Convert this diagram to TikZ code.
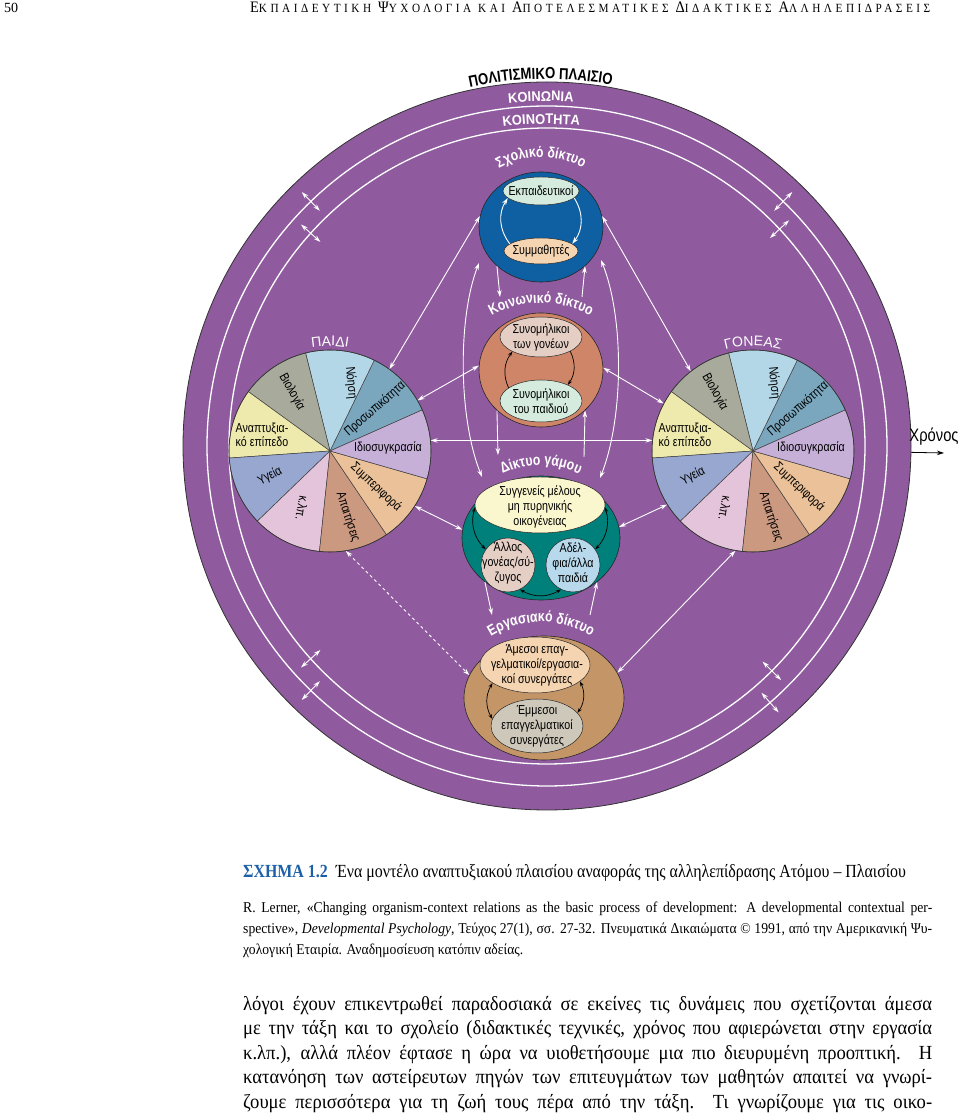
\documentclass[tikz,border=0pt]{standalone}
\usepackage{fontspec}
\setmainfont{Liberation Serif}
\newfontfamily\dfont[FakeStretch=0.82]{Liberation Sans}
\newfontfamily\wfont{Liberation Sans}
\newfontfamily\rfont[FakeStretch=0.92]{Liberation Sans}
\newfontfamily\capfont[FakeStretch=0.86]{Liberation Serif}
\newfontfamily\citefont[FakeStretch=0.91]{Liberation Serif}
\newfontfamily\bodyfont[FakeStretch=0.93]{Liberation Serif}
\newfontfamily\hdfont[LetterSpace=28,FakeStretch=0.9]{Liberation Serif}
\usetikzlibrary{arrows.meta,shapes.geometric,decorations.text,calc}

\definecolor{ctxpurple}{RGB}{143,91,158}
\definecolor{schoolblue}{RGB}{14,96,163}
\definecolor{socialred}{RGB}{207,133,104}
\definecolor{marteal}{RGB}{0,128,122}
\definecolor{worktan}{RGB}{196,150,103}
\definecolor{mintfill}{RGB}{212,235,222}
\definecolor{peachfill}{RGB}{245,212,177}
\definecolor{rosefill}{RGB}{229,207,197}
\definecolor{creamfill}{RGB}{250,246,206}
\definecolor{skyfill}{RGB}{184,217,235}
\definecolor{greyfill}{RGB}{205,200,186}
\definecolor{capblue}{RGB}{28,96,168}
\definecolor{pbio}{RGB}{168,171,156}
\definecolor{pnoi}{RGB}{180,215,232}
\definecolor{pper}{RGB}{122,167,190}
\definecolor{ptem}{RGB}{199,176,216}
\definecolor{pbeh}{RGB}{234,193,152}
\definecolor{pdem}{RGB}{203,152,128}
\definecolor{petc}{RGB}{227,196,218}
\definecolor{phea}{RGB}{152,167,207}
\definecolor{pdev}{RGB}{238,233,172}

\newcommand\netfont{\dfont\bfseries\fontsize{15}{15}\selectfont}
\newcommand\polfont{\dfont\bfseries\fontsize{16}{16}\selectfont}
\newcommand\ringfont{\rfont\bfseries\fontsize{14}{14}\selectfont}
\newcommand\whofont{\wfont\fontsize{14}{14}\selectfont}
\newcommand\hsc[2]{{\fontsize{16}{16}\selectfont#1}{\fontsize{12.5}{12.5}\selectfont#2}}

\begin{document}
\begin{tikzpicture}[x=1pt,y=1pt,
  warrow/.style={white,line width=0.9pt,{Stealth[length=7pt,width=4.5pt]}-{Stealth[length=7pt,width=4.5pt]}},
  wone/.style={white,line width=0.9pt,-{Stealth[length=7pt,width=4.5pt]}},
  barrow/.style={black,line width=0.7pt,{Stealth[length=5pt,width=3.5pt]}-{Stealth[length=5pt,width=3.5pt]}},
  bone/.style={black,line width=0.7pt,-{Stealth[length=5pt,width=3.5pt]}},
  netdisc/.style={ellipse,inner sep=0,draw=black!85,line width=0.6pt},
  innerell/.style={ellipse,inner sep=0,draw=black!85,line width=0.5pt},
  inlbl/.style={font=\dfont\fontsize{13}{15}\selectfont,align=center,inner sep=0},
  pielbl/.style={font=\dfont\fontsize{13}{14}\selectfont,align=center,inner sep=0},
  piedisc/.style={circle,inner sep=0,minimum size=202pt},
  arctext/.style 2 args={decorate,decoration={text along path,text align=center,text color=#1,text={#2}}}]
\useasboundingbox (0,0) rectangle (960,1117);

\node[anchor=base west,inner sep=0,font=\fontsize{14}{14}\selectfont] (pgno) at (4,1104) {50};
\node[anchor=base west,inner sep=0] (hdr) at (250,1104) {\makebox[680pt][s]{\hdfont\hsc{Ε}{ΚΠΑΙΔΕΥΤΙΚΗ} \hsc{Ψ}{ΥΧΟΛΟΓΙΑ} {\fontsize{12.5}{12.5}\selectfont ΚΑΙ} \hsc{Α}{ΠΟΤΕΛΕΣΜΑΤΙΚΕΣ} \hsc{Δ}{ΙΔΑΚΤΙΚΕΣ} \hsc{Α}{ΛΛΗΛΕΠΙΔΡΑΣΕΙΣ}}};

\node[circle,minimum size=728pt,inner sep=0,fill=ctxpurple,draw=black!80,line width=0.8pt] (world) at (547,671) {};
\draw[white,line width=1.3pt] (world.center) circle[radius=340] (world.center) circle[radius=318];

\path[arctext={black}{|\polfont|ΠΟΛΙΤΙΣΜΙΚΟ ΠΛΑΙΣΙΟ}] (world.center) ++(111:367) arc[start angle=111,end angle=71,radius=367];
\path[arctext={white}{|\ringfont|ΚΟΙΝΩΝΙΑ}] (world.center) ++(101:345) arc[start angle=101,end angle=81,radius=345];
\path[arctext={white}{|\ringfont|ΚΟΙΝΟΤΗΤΑ}] (world.center) ++(102:322) arc[start angle=102,end angle=80,radius=322];

\node[netdisc,minimum width=124pt,minimum height=110pt,fill=schoolblue] (school) at (541,890) {};
\node[netdisc,minimum width=124pt,minimum height=114pt,fill=socialred] (social) at (541,747) {};
\node[netdisc,minimum width=158pt,minimum height=124pt,fill=marteal] (marriage) at (541,579) {};
\node[netdisc,minimum width=160pt,minimum height=124pt,fill=worktan] (work) at (544,419) {};

\path[arctext={white}{|\netfont|Σχολικό δίκτυο}] (541,875) ++(160:85) arc[start angle=160,end angle=20,radius=85];
\path[arctext={white}{|\netfont|Κοινωνικό δίκτυο}] (541,714) ++(150:100) arc[start angle=150,end angle=30,radius=100];
\path[arctext={white}{|\netfont|Δίκτυο γάμου}] (541,567) ++(155:85) arc[start angle=155,end angle=25,radius=85];
\path[arctext={white}{|\netfont|Εργασιακό δίκτυο}] (541,400) ++(150:95) arc[start angle=150,end angle=30,radius=95];

\node[innerell,minimum width=76pt,minimum height=28pt,fill=mintfill] (teachers) at (541,926) {};
\node[inlbl] (teachers-t) at (teachers) {Εκπαιδευτικοί};
\node[innerell,minimum width=74pt,minimum height=26pt,fill=peachfill] (classmates) at (541,866) {};
\node[inlbl] (classmates-t) at (classmates) {Συμμαθητές};
\draw[wone] (classmates.167) to[bend left=35] (teachers.192);
\draw[wone] (teachers.348) to[bend left=35] (classmates.13);

\node[innerell,minimum width=82pt,minimum height=40pt,fill=rosefill] (parpeers) at (541,780) {};
\node[inlbl] (parpeers-t) at (parpeers) {Συνομήλικοι\\των γονέων};
\node[innerell,minimum width=82pt,minimum height=42pt,fill=mintfill] (kidpeers) at (541,716) {};
\node[inlbl] (kidpeers-t) at (kidpeers) {Συνομήλικοι\\του παιδιού};
\draw[bone] (kidpeers.158) to[bend left=30] (parpeers.207);
\draw[bone] (parpeers.334) to[bend left=30] (kidpeers.31);

\node[innerell,minimum width=130pt,minimum height=56pt,fill=creamfill] (kin) at (540,612) {};
\node[inlbl] (kin-t) at (540,610) {Συγγενείς μέλους\\μη πυρηνικής\\οικογένειας};
\node[innerell,minimum width=54pt,minimum height=54pt,fill=rosefill] (otherpar) at (508,552) {};
\node[inlbl] (otherpar-t) at (508,554) {Άλλος\\γονέας/σύ-\\ζυγος};
\node[innerell,minimum width=54pt,minimum height=54pt,fill=skyfill] (siblings) at (573,552) {};
\node[inlbl] (siblings-t) at (573,554) {Αδέλ-\\φια/άλλα\\παιδιά};
\draw[barrow] (kin.182) to[bend right=30] (otherpar.145);
\draw[barrow] (kin.358) to[bend left=30] (siblings.35);
\draw[barrow] (otherpar.296) to[bend right=30] (siblings.244);

\node[innerell,minimum width=110pt,minimum height=56pt,fill=peachfill] (directcol) at (535,452) {};
\node[inlbl] (directcol-t) at (537,452) {Άμεσοι επαγ-\\γελματικοί/εργασια-\\κοί συνεργάτες};
\node[innerell,minimum width=92pt,minimum height=54pt,fill=greyfill] (indirectcol) at (537,391) {};
\node[inlbl] (indirectcol-t) at (537,391) {Έμμεσοι\\επαγγελματικοί\\συνεργάτες};
\draw[barrow] (directcol.203) to[bend right=30] (indirectcol.171);
\draw[barrow] (directcol.340) to[bend left=30] (indirectcol.18);

\node[piedisc] (child) at (330,666) {};
\node[piedisc] (parent) at (753,666) {};
\foreach \p in {child,parent}{
  \foreach \s/\c in {24/pper,64/pnoi,104/pbio,144/pdev,184/phea,224/petc,264/pdem,304/pbeh,344/ptem}
    \filldraw[fill=\c,draw=black!75,line width=0.5pt] (\p.center) -- ++(\s:101) arc[start angle=\s,delta angle=40,radius=101] -- cycle;
  \draw[black!80,line width=0.6pt] (\p.center) circle[radius=101];
  \foreach \n/\dx/\dy/\r/\t in {bio/-38/59/-61/Βιολογία,noi/21/68/-85/Νόηση,per/45/42/41/Προσωπικότητα,
      tem/58/3/0/Ιδιοσυγκρασία,beh/46/-36/-43/Συμπεριφορά,dem/18/-66/-72/Απαιτήσεις,
      etc/-28/-57/-100/κ.λπ.,hea/-60/-25/28/Υγεία,dev/-68/16/0/{Αναπτυξια-\\κό επίπεδο}}
    \node[pielbl,rotate=\r] (\p-\n) at ($(\p.center)+(\dx,\dy)$) {\t};
}
\path[arctext={white}{|\whofont|ΠΑΙΔΙ}] (child.center) ++(120:105) arc[start angle=120,end angle=60,radius=105];
\path[arctext={white}{|\whofont|ΓΟΝΕΑΣ}] (parent.center) ++(120:105) arc[start angle=120,end angle=60,radius=105];

\coordinate (ss1) at (500,820);
\coordinate (ss2) at (582,820);
\coordinate (sm1) at (498,662);
\coordinate (sm2) at (584,660);
\coordinate (mw1) at (492,502);
\coordinate (mw2) at (590,502);
\draw[wone] (school.south west) -- (ss1);
\draw[wone] (ss2) -- (school.south east);
\draw[wone] (social.south west) -- (sm1);
\draw[wone] (sm2) -- (social.south east);
\draw[wone] (marriage.south west) -- (mw1);
\draw[wone] (mw2) -- (marriage.south east);

\coordinate (arcLt) at (479,854);
\coordinate (arcLb) at (482,640);
\coordinate (arcRt) at (601,857);
\coordinate (arcRb) at (600,639);
\draw[warrow] (arcLt) .. controls (458,800) and (458,700) .. (arcLb);
\draw[warrow] (arcRt) .. controls (624,800) and (624,700) .. (arcRb);

\draw[warrow] (child.54) -- (school.170);
\draw[warrow] (parent.128) -- (school.10);
\draw[warrow] (child.30) -- (social.176);
\draw[warrow] (parent.152) -- (social.2);
\draw[warrow] (child.6) -- (parent.174);
\draw[warrow] (child.-33) -- (marriage.174);
\draw[warrow] (parent.212) -- (marriage.8);
\draw[warrow,dashed] (child.-81) -- (work.163);
\draw[warrow] (parent.260) -- (work.19);

\foreach \a/\r [count=\i] in {134/340,138/318,46/340,43/318,226/340,222/318,311/340,315/318}{
  \coordinate (ra\i) at ($(world.center)+({\a}:{\r-13})$);
  \coordinate (rb\i) at ($(world.center)+({\a}:{\r+13})$);
  \draw[warrow] (ra\i) -- (rb\i);
}

\node[font=\dfont\fontsize{18}{18}\selectfont,inner sep=0] (time) at (934,680) {Χρόνος};
\coordinate (timeend) at (944,664);
\draw[-{Stealth[length=7pt,width=4.5pt]},line width=0.8pt] (world.-1) -- (timeend);

\node[anchor=base west,inner sep=0,font=\capfont\fontsize{18.5}{20}\selectfont] (cap) at (243,239) {{\bfseries\color{capblue}ΣΧΗΜΑ 1.2}\hspace{8pt}Ένα μοντέλο αναπτυξιακού πλαισίου αναφοράς της αλληλεπίδρασης Ατόμου – Πλαισίου};
\node[anchor=base west,inner sep=0,font=\citefont\fontsize{15}{16}\selectfont] (cite1) at (243,204) {\makebox[689pt][s]{R. Lerner, «Changing organism-context relations as the basic process of development: A developmental contextual per-}};
\node[anchor=base west,inner sep=0,font=\citefont\fontsize{15}{16}\selectfont] (cite2) at (243,183) {\makebox[689pt][s]{spective», \textit{Developmental Psychology}, Τεύχος 27(1), σσ. 27-32. Πνευματικά Δικαιώματα © 1991, από την Αμερικανική Ψυ-}};
\node[anchor=base west,inner sep=0,font=\citefont\fontsize{15}{16}\selectfont] (cite3) at (243,162) {χολογική Εταιρία. Αναδημοσίευση κατόπιν αδείας.};

\node[anchor=base west,inner sep=0,font=\bodyfont\fontsize{20}{24}\selectfont] (body1) at (243,106) {\makebox[689pt][s]{λόγοι έχουν επικεντρωθεί παραδοσιακά σε εκείνες τις δυνάμεις που σχετίζονται άμεσα}};
\node[anchor=base west,inner sep=0,font=\bodyfont\fontsize{20}{24}\selectfont] (body2) at (243,82) {\makebox[689pt][s]{με την τάξη και το σχολείο (διδακτικές τεχνικές, χρόνος που αφιερώνεται στην εργασία}};
\node[anchor=base west,inner sep=0,font=\bodyfont\fontsize{20}{24}\selectfont] (body3) at (243,57) {\makebox[689pt][s]{κ.λπ.), αλλά πλέον έφτασε η ώρα να υιοθετήσουμε μια πιο διευρυμένη προοπτική. Η}};
\node[anchor=base west,inner sep=0,font=\bodyfont\fontsize{20}{24}\selectfont] (body4) at (243,33) {\makebox[689pt][s]{κατανόηση των αστείρευτων πηγών των επιτευγμάτων των μαθητών απαιτεί να γνωρί-}};
\node[anchor=base west,inner sep=0,font=\bodyfont\fontsize{20}{24}\selectfont] (body5) at (243,9) {\makebox[689pt][s]{ζουμε περισσότερα για τη ζωή τους πέρα από την τάξη. Τι γνωρίζουμε για τις οικο-}};
\end{tikzpicture}
\end{document}
